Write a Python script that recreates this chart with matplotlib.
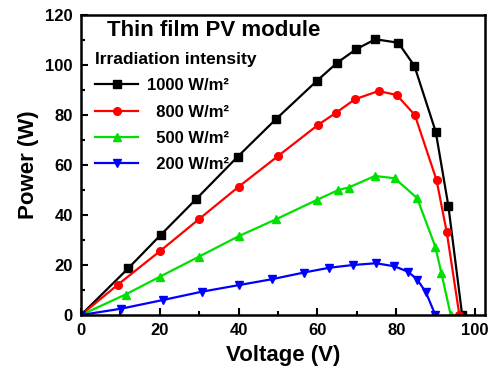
import matplotlib
matplotlib.use("Agg")
import matplotlib.pyplot as plt
from matplotlib.ticker import MultipleLocator

plt.rcParams['font.family'] = ['Liberation Sans', 'DejaVu Sans']
plt.rcParams['font.weight'] = 'bold'

# P-V curves of a thin film PV module at four irradiation levels
v_1000 = [0, 12.0, 20.2, 29.3, 39.8, 49.5, 59.8, 65.0, 69.8, 74.7, 80.5, 84.6, 90.0, 93.2, 96.7]
p_1000 = [0, 18.7, 32.0, 46.5, 63.4, 78.4, 93.6, 100.9, 106.3, 110.3, 108.9, 99.6, 73.3, 43.7, 0]

v_800 = [0, 9.4, 20.0, 29.9, 40.0, 50.0, 60.1, 64.7, 69.5, 75.5, 80.1, 84.7, 90.2, 92.8, 96.0]
p_800 = [0, 12.2, 25.5, 38.3, 51.3, 63.6, 76.0, 80.9, 86.3, 89.6, 88.0, 80.0, 54.0, 33.1, 0]

v_500 = [0, 11.3, 20.0, 30.0, 40.1, 49.5, 59.8, 65.3, 67.9, 74.6, 79.6, 85.3, 89.9, 91.4, 93.8]
p_500 = [0, 8.2, 15.3, 23.4, 31.6, 38.3, 46.0, 50.0, 51.0, 55.6, 54.7, 46.7, 27.3, 17.0, 0]

v_200 = [0, 10.1, 20.8, 30.6, 40.2, 48.4, 56.6, 63.0, 69.0, 74.8, 79.5, 83.0, 85.3, 87.5, 89.9]
p_200 = [0, 2.5, 6.0, 9.3, 12.0, 14.3, 17.0, 18.9, 20.0, 20.7, 19.5, 17.3, 14.2, 9.1, 0]

labels = ["1000 W/m\u00b2", "  800 W/m\u00b2", "  500 W/m\u00b2", "  200 W/m\u00b2"]
colors = ["#000000", "#ff0000", "#00e000", "#0000ff"]
markers = ["s", "o", "^", "v"]
series = [(v_1000, p_1000), (v_800, p_800), (v_500, p_500), (v_200, p_200)]

fig = plt.figure(figsize=(4.94, 3.71), dpi=100)
ax = fig.add_axes([81 / 494, 1 - 315 / 371, (485 - 81) / 494, (315 - 15) / 371])

for (v, p), lab, c, m in zip(series, labels, colors, markers):
    ax.plot(v, p, color=c, marker=m, markersize=5.5, linewidth=1.6, label=lab)

ax.set_xlim(0, 102.5)
ax.set_ylim(0, 120)
ax.xaxis.set_major_locator(MultipleLocator(20))
ax.xaxis.set_minor_locator(MultipleLocator(10))
ax.yaxis.set_major_locator(MultipleLocator(20))
ax.yaxis.set_minor_locator(MultipleLocator(10))
ax.tick_params(which='both', direction='in', top=False, right=False,
               labelsize=12, width=1.5)
ax.tick_params(which='major', length=5)
ax.tick_params(which='minor', length=3)
ax.tick_params(axis='x', pad=6)
ax.tick_params(axis='y', pad=6)
for lbl in ax.get_xticklabels() + ax.get_yticklabels():
    lbl.set_fontweight('bold')
for s in ax.spines.values():
    s.set_linewidth(1.8)

ax.set_xlabel("Voltage (V)", fontsize=16, fontweight='bold', labelpad=5)
ax.set_ylabel("Power (W)", fontsize=16, fontweight='bold', labelpad=4)

ax.text(0.065, 0.95, "Thin film PV module", transform=ax.transAxes,
        fontsize=16, fontweight='bold', va='center', ha='left')

leg = ax.legend(loc='upper left', bbox_to_anchor=(0.01, 0.91), frameon=False,
                title="Irradiation intensity", fontsize=12,
                title_fontproperties={'size': 12.5, 'weight': 'bold'},
                handlelength=2.6, handletextpad=0.5, labelspacing=0.68,
                borderaxespad=0.2)
leg._legend_box.align = "left"
for t in leg.get_texts():
    t.set_fontweight('bold')

fig.savefig("out.png", dpi=100)
